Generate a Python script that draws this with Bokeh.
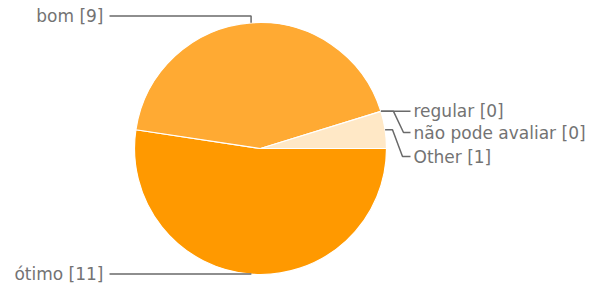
import math
from bokeh.plotting import figure
from bokeh.models import Range1d, ColumnDataSource
from bokeh.core.properties import value
from bokeh.embed import file_html
from bokeh.resources import INLINE

# ---- data ----
labels = ["ótimo", "bom", "regular", "não pode avaliar", "Other"]
counts = [11, 9, 0, 0, 1]
colors = ["#FF9900", "#FFAA33", "#FFC266", "#FFD699", "#FFE8C6"]

# ---- layout (picture pixel space; y measured up from picture bottom) ----
W, H = 589, 284
PAGE_H = 292
cx, cy_page, R = 260, 148, 126
cy = PAGE_H - cy_page

p = figure(width=W, height=H, output_backend="svg", toolbar_location=None,
           x_range=Range1d(0, W), y_range=Range1d(PAGE_H - H, PAGE_H),
           min_border=0, background_fill_color="white", border_fill_color="white")
p.axis.visible = False
p.grid.visible = False
p.outline_line_color = None

total = sum(counts)
starts, ends, mids = [], [], []
a = 0.0
for c in counts:
    span = 2 * math.pi * c / total
    starts.append(a)
    ends.append(a - span)
    mids.append(a - span / 2)
    a -= span

keep = [i for i, c in enumerate(counts) if c > 0]
src = ColumnDataSource(dict(start=[starts[i] for i in keep],
                            end=[ends[i] for i in keep],
                            fill=[colors[i] for i in keep]))
p.wedge(x=cx, y=cy, radius=R, start_angle="start", end_angle="end",
        direction="clock", fill_color="fill", line_color="white",
        line_width=1.2, source=src)

LINE = "#6a6a6a"
TXT = "#737373"
FONT = value("DejaVu Sans")
FS = "17px"

def up(y):
    return PAGE_H - y

def anchor(i):
    ang = mids[i]
    return cx + R * math.cos(ang), cy + R * math.sin(ang)

# ótimo (bottom) and bom (top)
for i, ly in ((0, 273.5), (1, 15.5)):
    ax, ay = anchor(i)
    p.line([ax, ax, 109], [ay, up(ly), up(ly)], line_color=LINE, line_width=1.5)
    p.text(x=[103], y=[up(ly)], text=[f"{labels[i]} [{counts[i]}]"],
           text_align="right", text_baseline="middle", text_font=FONT,
           text_font_size=FS, text_color=TXT)

# regular
ax, ay = anchor(2)
p.line([ax, 410], [ay, ay], line_color=LINE, line_width=1.5)
p.text(x=[413], y=[ay], text=[f"{labels[2]} [{counts[2]}]"],
       text_align="left", text_baseline="middle", text_font=FONT,
       text_font_size=FS, text_color=TXT)

# não pode avaliar
ax, ay = anchor(3)
ly = up(132)
p.line([ax, 393, 403, 410], [ay, ay, ly, ly], line_color=LINE, line_width=1.5)
p.text(x=[413], y=[ly], text=[f"{labels[3]} [{counts[3]}]"],
       text_align="left", text_baseline="middle", text_font=FONT,
       text_font_size=FS, text_color=TXT)

# Other
ax, ay = anchor(4)
ly = up(156)
p.line([ax, 392, 402, 410], [ay, ay, ly, ly], line_color=LINE, line_width=1.5)
p.text(x=[413], y=[ly], text=[f"{labels[4]} [{counts[4]}]"],
       text_align="left", text_baseline="middle", text_font=FONT,
       text_font_size=FS, text_color=TXT)

open("out.html", "w").write(file_html(p, INLINE))
